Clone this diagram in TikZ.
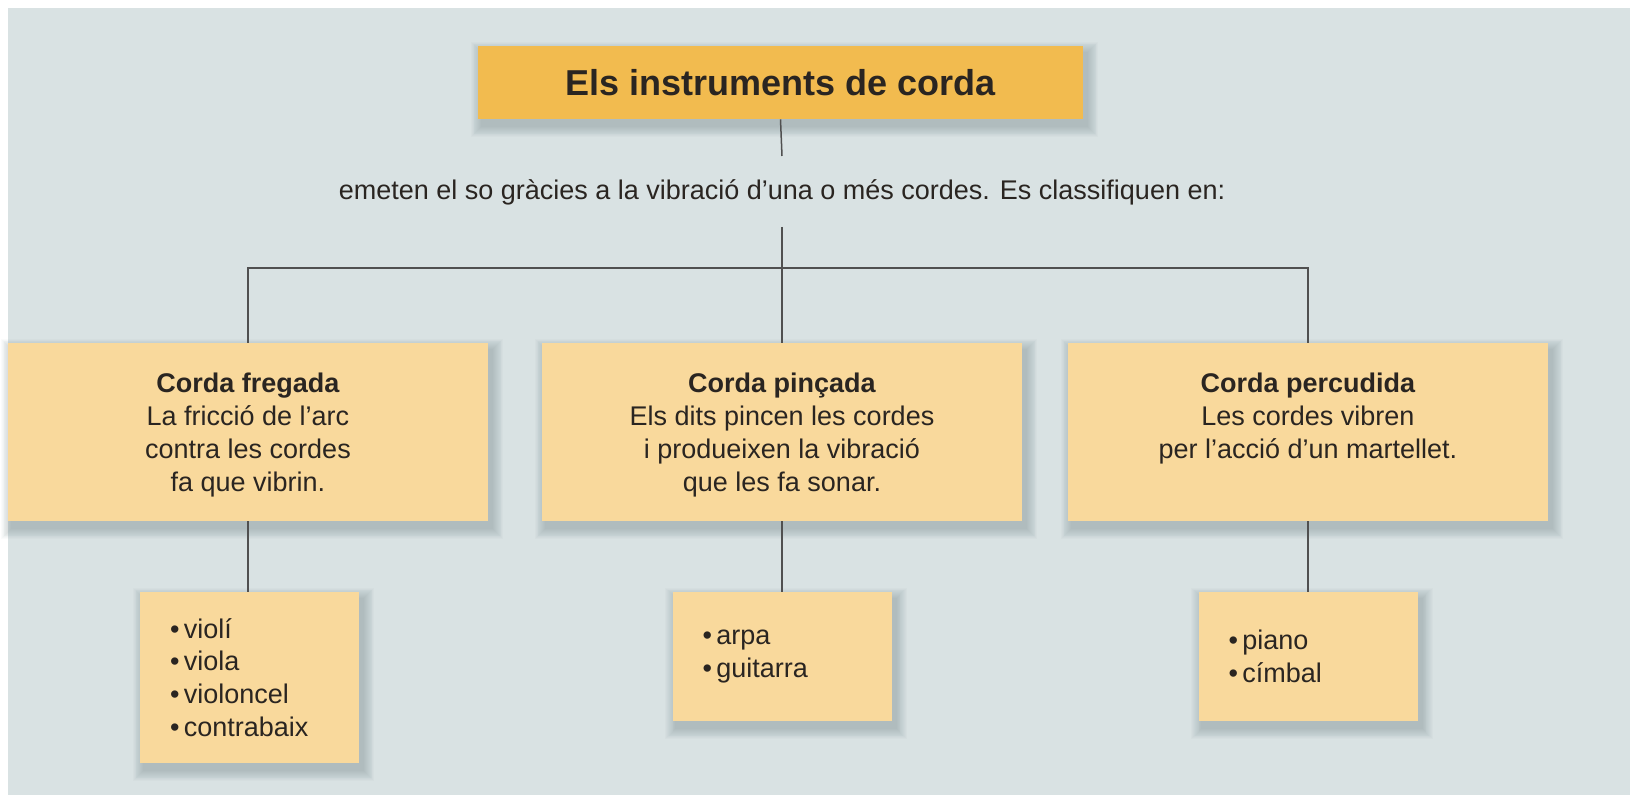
\documentclass[tikz,border=0pt]{standalone}
\usepackage{fontspec}
\setmainfont{Liberation Sans}
\definecolor{bgc}{HTML}{D9E2E3}
\definecolor{titlec}{HTML}{F2BB4F}
\definecolor{boxc}{HTML}{F9D99C}
\definecolor{textc}{HTML}{2A2521}
\definecolor{linec}{HTML}{505050}
\definecolor{shadc}{HTML}{5A6E74}
\pgfdeclarelayer{bgl}
\pgfdeclarelayer{shl}
\pgfsetlayers{bgl,shl,main}
\tikzset{
  titlebox/.style={fill=titlec, inner sep=0pt, minimum width=302.5pt, minimum height=36.5pt,
    text=textc, font=\fontsize{18pt}{20pt}\selectfont\bfseries},
  catbox/.style={fill=boxc, inner sep=0pt, minimum width=240pt, minimum height=89pt},
  cattext/.style={inner sep=0pt, align=center, text=textc, font=\fontsize{13.5pt}{16.5pt}\selectfont, anchor=north},
  descr/.style={inner sep=0pt, text=textc, font=\fontsize{13.5pt}{16.5pt}\selectfont, anchor=base},
  itembox/.style={fill=boxc, inner xsep=15pt, inner ysep=0pt, text width=79.5pt, minimum width=109.5pt,
    align=left, text=textc, font=\fontsize{13.5pt}{16.4pt}\selectfont},
  conn/.style={draw=linec, line width=0.75pt},
  shadlayer/.style={fill=shadc, opacity=0.028}
}
\newcommand\boxshadow[1]{%
  \begin{pgfonlayer}{shl}
    \foreach \e in {1,...,12}{%
      \fill[shadlayer] ([shift={(4-0.9*\e,7+0.9*\e)}]#1.south west) rectangle ([shift={(4+0.9*\e,7-0.9*\e)}]#1.north east);
    }
  \end{pgfonlayer}}
\begin{document}
\begin{tikzpicture}[x=0.5pt,y=-0.5pt]
\useasboundingbox (0,0) rectangle (1630,795);
\begin{pgfonlayer}{bgl}
\fill[white] (0,0) rectangle (1630,795);
\fill[bgc] (8,8) rectangle (1630,795);
\end{pgfonlayer}

% title
\node[titlebox] (title) at (780.5,82.5) {Els instruments de corda};
\node[descr] (desc) at (782,200) {emeten el so gràcies a la vibració d’una o més cordes. Es classifiquen en:};
\coordinate (d1) at (782,156);
\coordinate (d2) at (782,227);
\coordinate (j) at (782,268);

% category boxes
\node[catbox] (b1) at (248,432) {};
\node[catbox] (b2) at (782,432) {};
\node[catbox] (b3) at (1308,432) {};
\node[cattext] (t1) at (248,373) {\textbf{Corda fregada}\\La fricció de l’arc\\contra les cordes\\fa que vibrin.};
\node[cattext] (t2) at (782,373) {\textbf{Corda pinçada}\\Els dits pincen les cordes\\i produeixen la vibració\\que les fa sonar.};
\node[cattext] (t3) at (1308,373) {\textbf{Corda percudida}\\Les cordes vibren\\per l’acció d’un martellet.};

% item boxes
\node[itembox, minimum height=85.5pt] (l1) at (249.5,677.5) {•\,violí\\•\,viola\\•\,violoncel\\•\,contrabaix};
\node[itembox, minimum height=64.5pt] (l2) at (782,656.5) {•\,arpa\\•\,guitarra};
\node[itembox, minimum height=64.5pt] (l3) at (1308,656.5) {•\,piano\\•\,címbal};

% shadows
\boxshadow{title}
\boxshadow{b1}
\boxshadow{b2}
\boxshadow{b3}
\boxshadow{l1}
\boxshadow{l2}
\boxshadow{l3}

% connectors
\draw[conn] (title.south) -- (d1);
\draw[conn] (d2) -- (j);
\draw[conn] (b1.north) |- (j) -| (b3.north);
\draw[conn] (j) -- (b2.north);
\draw[conn] (b1.south) -- (b1.south |- l1.north);
\draw[conn] (b2.south) -- (l2.north);
\draw[conn] (b3.south) -- (l3.north);
\end{tikzpicture}
\end{document}
